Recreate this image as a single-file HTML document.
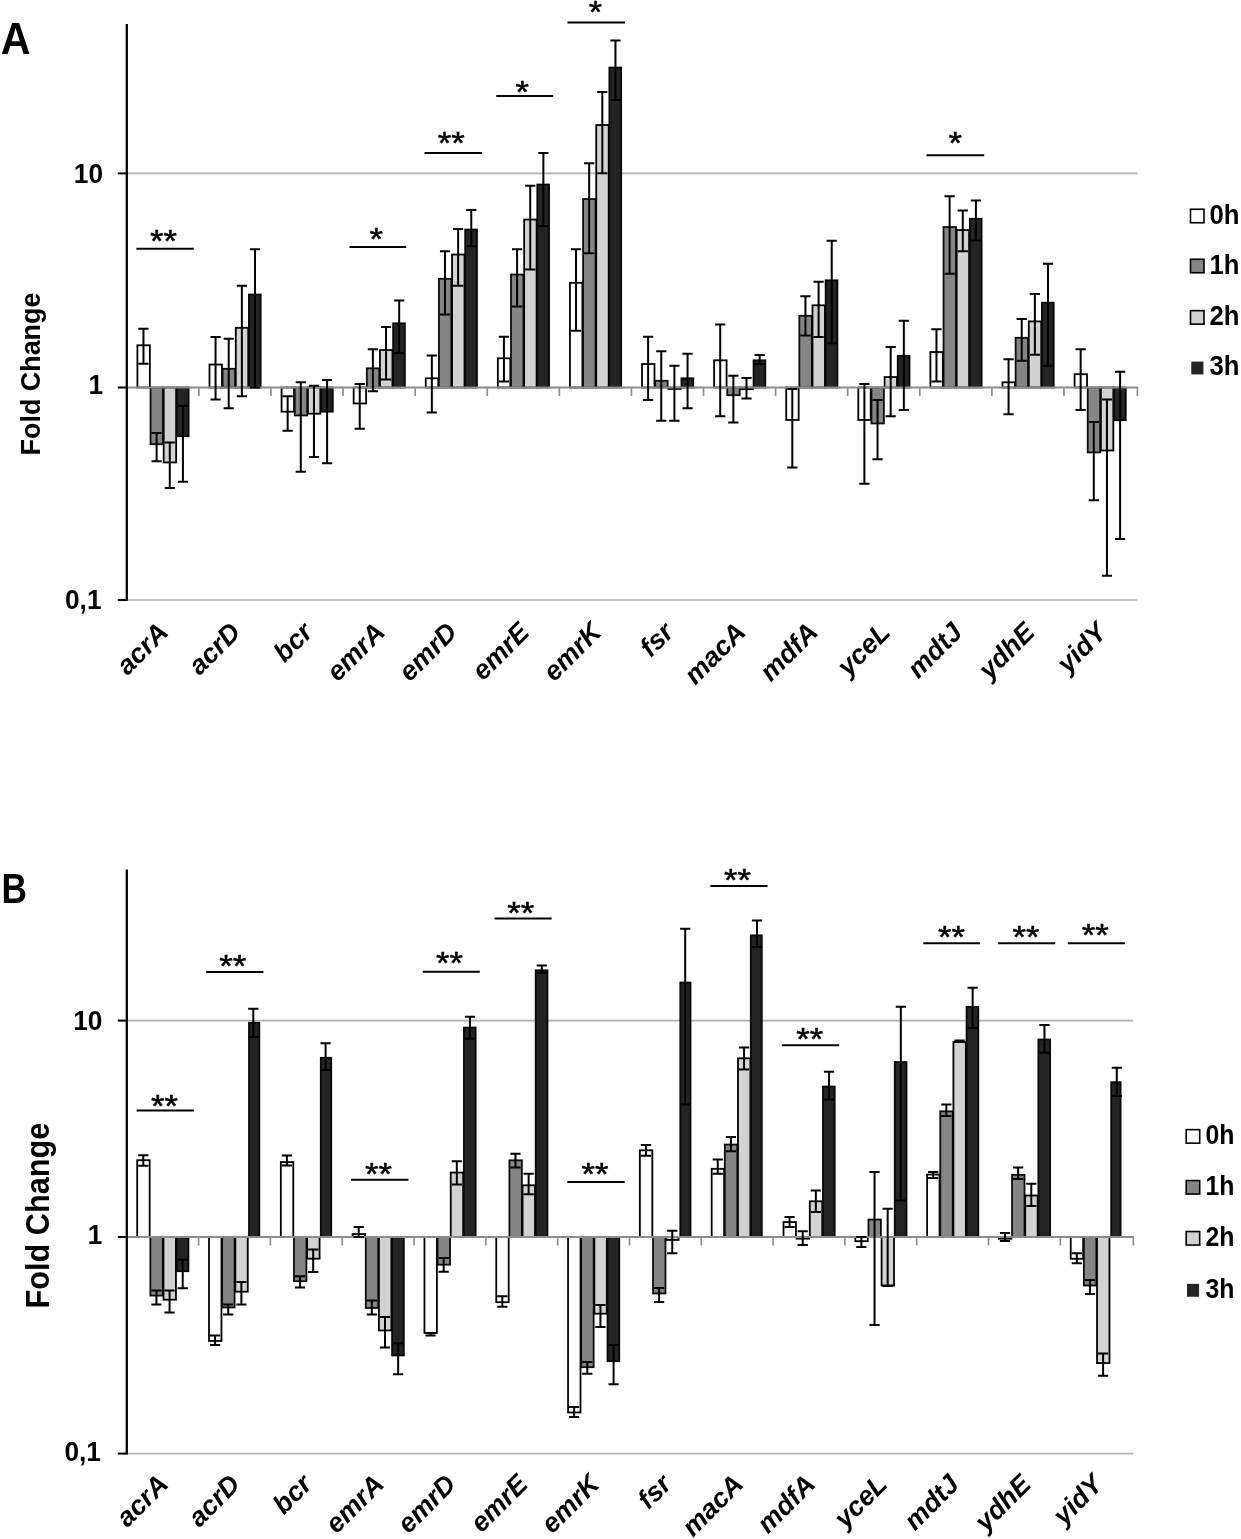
<!DOCTYPE html>
<html lang="en">
<head>
<meta charset="utf-8">
<title>Fold change of efflux pump genes</title>
<style>
html,body{margin:0;padding:0;background:#fff;}
body{width:1241px;height:1539px;overflow:hidden;}
svg{display:block;filter:blur(0.45px);}
svg text{font-family:"Liberation Sans",sans-serif;fill:#000;}
</style>
</head>
<body>
<svg width="1241" height="1539" viewBox="0 0 1241 1539">
<rect width="1241" height="1539" fill="#fff"/>
<g id="panelA">
<line x1="126.8" y1="173.4" x2="1137.4" y2="173.4" stroke="#b0b0b0" stroke-width="1.7"/>
<line x1="126.8" y1="600" x2="1137.4" y2="600" stroke="#b0b0b0" stroke-width="1.7"/>
<rect x="137.4" y="345.3" width="12.45" height="42.2" fill="#ffffff" stroke="#000000" stroke-width="1.8"/>
<rect x="150.55" y="387.5" width="12.45" height="56.7" fill="#858585" stroke="#0c0c0c" stroke-width="1.8"/>
<rect x="163.7" y="387.5" width="12.45" height="74.95" fill="#d2d2d2" stroke="#000000" stroke-width="1.8"/>
<rect x="176.85" y="387.5" width="11.75" height="48.7" fill="#242424" stroke="#080808" stroke-width="1.8"/>
<rect x="209.49" y="364.55" width="12.45" height="22.95" fill="#ffffff" stroke="#000000" stroke-width="1.8"/>
<rect x="222.64" y="368.8" width="12.45" height="18.7" fill="#858585" stroke="#0c0c0c" stroke-width="1.8"/>
<rect x="235.79" y="327.8" width="12.45" height="59.7" fill="#d2d2d2" stroke="#000000" stroke-width="1.8"/>
<rect x="248.94" y="294.55" width="11.75" height="92.95" fill="#242424" stroke="#080808" stroke-width="1.8"/>
<rect x="281.58" y="387.5" width="12.45" height="24.2" fill="#ffffff" stroke="#000000" stroke-width="1.8"/>
<rect x="294.73" y="387.5" width="12.45" height="27.95" fill="#858585" stroke="#0c0c0c" stroke-width="1.8"/>
<rect x="307.88" y="387.5" width="12.45" height="26.2" fill="#d2d2d2" stroke="#000000" stroke-width="1.8"/>
<rect x="321.03" y="387.5" width="11.75" height="24.2" fill="#242424" stroke="#080808" stroke-width="1.8"/>
<rect x="353.67" y="387.5" width="12.45" height="15.95" fill="#ffffff" stroke="#000000" stroke-width="1.8"/>
<rect x="366.82" y="368.3" width="12.45" height="19.2" fill="#858585" stroke="#0c0c0c" stroke-width="1.8"/>
<rect x="379.97" y="350.05" width="12.45" height="37.45" fill="#d2d2d2" stroke="#000000" stroke-width="1.8"/>
<rect x="393.12" y="323.3" width="11.75" height="64.2" fill="#242424" stroke="#080808" stroke-width="1.8"/>
<rect x="425.76" y="378.3" width="12.45" height="9.2" fill="#ffffff" stroke="#000000" stroke-width="1.8"/>
<rect x="438.91" y="278.8" width="12.45" height="108.7" fill="#858585" stroke="#0c0c0c" stroke-width="1.8"/>
<rect x="452.06" y="254.55" width="12.45" height="132.95" fill="#d2d2d2" stroke="#000000" stroke-width="1.8"/>
<rect x="465.21" y="229.55" width="11.75" height="157.95" fill="#242424" stroke="#080808" stroke-width="1.8"/>
<rect x="497.85" y="358.3" width="12.45" height="29.2" fill="#ffffff" stroke="#000000" stroke-width="1.8"/>
<rect x="511" y="274.55" width="12.45" height="112.95" fill="#858585" stroke="#0c0c0c" stroke-width="1.8"/>
<rect x="524.15" y="219.55" width="12.45" height="167.95" fill="#d2d2d2" stroke="#000000" stroke-width="1.8"/>
<rect x="537.3" y="184.55" width="11.75" height="202.95" fill="#242424" stroke="#080808" stroke-width="1.8"/>
<rect x="569.94" y="282.8" width="12.45" height="104.7" fill="#ffffff" stroke="#000000" stroke-width="1.8"/>
<rect x="583.09" y="199.05" width="12.45" height="188.45" fill="#858585" stroke="#0c0c0c" stroke-width="1.8"/>
<rect x="596.24" y="125.05" width="12.45" height="262.45" fill="#d2d2d2" stroke="#000000" stroke-width="1.8"/>
<rect x="609.39" y="67.55" width="11.75" height="319.95" fill="#242424" stroke="#080808" stroke-width="1.8"/>
<rect x="642.03" y="364.05" width="12.45" height="23.45" fill="#ffffff" stroke="#000000" stroke-width="1.8"/>
<rect x="655.18" y="380.8" width="12.45" height="6.7" fill="#858585" stroke="#0c0c0c" stroke-width="1.8"/>
<rect x="668.33" y="387.5" width="12.45" height="1.45" fill="#d2d2d2" stroke="#000000" stroke-width="1.8"/>
<rect x="681.48" y="378.3" width="11.75" height="9.2" fill="#242424" stroke="#080808" stroke-width="1.8"/>
<rect x="714.12" y="360.3" width="12.45" height="27.2" fill="#ffffff" stroke="#000000" stroke-width="1.8"/>
<rect x="727.27" y="387.5" width="12.45" height="7.7" fill="#858585" stroke="#0c0c0c" stroke-width="1.8"/>
<rect x="740.42" y="387.5" width="12.45" height="1.7" fill="#d2d2d2" stroke="#000000" stroke-width="1.8"/>
<rect x="753.57" y="360.3" width="11.75" height="27.2" fill="#242424" stroke="#080808" stroke-width="1.8"/>
<rect x="786.21" y="387.5" width="12.45" height="32.45" fill="#ffffff" stroke="#000000" stroke-width="1.8"/>
<rect x="799.36" y="315.8" width="12.45" height="71.7" fill="#858585" stroke="#0c0c0c" stroke-width="1.8"/>
<rect x="812.51" y="305.3" width="12.45" height="82.2" fill="#d2d2d2" stroke="#000000" stroke-width="1.8"/>
<rect x="825.66" y="280.3" width="11.75" height="107.2" fill="#242424" stroke="#080808" stroke-width="1.8"/>
<rect x="858.3" y="387.5" width="12.45" height="32.45" fill="#ffffff" stroke="#000000" stroke-width="1.8"/>
<rect x="871.45" y="387.5" width="12.45" height="35.95" fill="#858585" stroke="#0c0c0c" stroke-width="1.8"/>
<rect x="884.6" y="377.05" width="12.45" height="10.45" fill="#d2d2d2" stroke="#000000" stroke-width="1.8"/>
<rect x="897.75" y="355.8" width="11.75" height="31.7" fill="#242424" stroke="#080808" stroke-width="1.8"/>
<rect x="930.39" y="352.05" width="12.45" height="35.45" fill="#ffffff" stroke="#000000" stroke-width="1.8"/>
<rect x="943.54" y="227.05" width="12.45" height="160.45" fill="#858585" stroke="#0c0c0c" stroke-width="1.8"/>
<rect x="956.69" y="230.05" width="12.45" height="157.45" fill="#d2d2d2" stroke="#000000" stroke-width="1.8"/>
<rect x="969.84" y="218.8" width="11.75" height="168.7" fill="#242424" stroke="#080808" stroke-width="1.8"/>
<rect x="1002.48" y="382.3" width="12.45" height="5.2" fill="#ffffff" stroke="#000000" stroke-width="1.8"/>
<rect x="1015.63" y="337.8" width="12.45" height="49.7" fill="#858585" stroke="#0c0c0c" stroke-width="1.8"/>
<rect x="1028.78" y="321.4" width="12.45" height="66.1" fill="#d2d2d2" stroke="#000000" stroke-width="1.8"/>
<rect x="1041.93" y="302.7" width="11.75" height="84.8" fill="#242424" stroke="#080808" stroke-width="1.8"/>
<rect x="1074.57" y="374.2" width="12.45" height="13.3" fill="#ffffff" stroke="#000000" stroke-width="1.8"/>
<rect x="1087.72" y="387.5" width="12.45" height="64.9" fill="#858585" stroke="#0c0c0c" stroke-width="1.8"/>
<rect x="1100.87" y="387.5" width="12.45" height="63" fill="#d2d2d2" stroke="#000000" stroke-width="1.8"/>
<rect x="1114.02" y="387.5" width="11.75" height="32.7" fill="#242424" stroke="#080808" stroke-width="1.8"/>
<line x1="126.8" y1="387.5" x2="1138.1" y2="387.5" stroke="#8c8c8c" stroke-width="1.8"/>
<line x1="198.89" y1="387.5" x2="198.89" y2="396" stroke="#8f8f8f" stroke-width="1.7"/>
<line x1="270.98" y1="387.5" x2="270.98" y2="396" stroke="#8f8f8f" stroke-width="1.7"/>
<line x1="343.07" y1="387.5" x2="343.07" y2="396" stroke="#8f8f8f" stroke-width="1.7"/>
<line x1="415.16" y1="387.5" x2="415.16" y2="396" stroke="#8f8f8f" stroke-width="1.7"/>
<line x1="487.25" y1="387.5" x2="487.25" y2="396" stroke="#8f8f8f" stroke-width="1.7"/>
<line x1="559.34" y1="387.5" x2="559.34" y2="396" stroke="#8f8f8f" stroke-width="1.7"/>
<line x1="631.43" y1="387.5" x2="631.43" y2="396" stroke="#8f8f8f" stroke-width="1.7"/>
<line x1="703.52" y1="387.5" x2="703.52" y2="396" stroke="#8f8f8f" stroke-width="1.7"/>
<line x1="775.61" y1="387.5" x2="775.61" y2="396" stroke="#8f8f8f" stroke-width="1.7"/>
<line x1="847.7" y1="387.5" x2="847.7" y2="396" stroke="#8f8f8f" stroke-width="1.7"/>
<line x1="919.79" y1="387.5" x2="919.79" y2="396" stroke="#8f8f8f" stroke-width="1.7"/>
<line x1="991.88" y1="387.5" x2="991.88" y2="396" stroke="#8f8f8f" stroke-width="1.7"/>
<line x1="1063.97" y1="387.5" x2="1063.97" y2="396" stroke="#8f8f8f" stroke-width="1.7"/>
<line x1="1137.4" y1="387.5" x2="1137.4" y2="396" stroke="#8f8f8f" stroke-width="1.7"/>
<path d="M143.47 328.8V363.75M138.37 328.8H148.57M138.37 363.75H148.57" stroke="#000" stroke-width="2" fill="none"/>
<path d="M156.62 433V461.25M151.52 433H161.72M151.52 461.25H161.72" stroke="#000" stroke-width="2" fill="none"/>
<path d="M169.77 442.5V488M164.67 442.5H174.87M164.67 488H174.87" stroke="#000" stroke-width="2" fill="none"/>
<path d="M182.92 405.75V481.75M177.82 405.75H188.02M177.82 481.75H188.02" stroke="#000" stroke-width="2" fill="none"/>
<path d="M215.56 337V399.5M210.46 337H220.66M210.46 399.5H220.66" stroke="#000" stroke-width="2" fill="none"/>
<path d="M228.71 338.75V408.25M223.61 338.75H233.81M223.61 408.25H233.81" stroke="#000" stroke-width="2" fill="none"/>
<path d="M241.86 285.75V396.25M236.76 285.75H246.96M236.76 396.25H246.96" stroke="#000" stroke-width="2" fill="none"/>
<path d="M255.01 249.25V387.6M249.91 249.25H260.12M249.91 387.6H260.12" stroke="#000" stroke-width="2" fill="none"/>
<path d="M287.65 396.25V430.75M282.55 396.25H292.75M282.55 430.75H292.75" stroke="#000" stroke-width="2" fill="none"/>
<path d="M300.8 382.25V471.75M295.7 382.25H305.9M295.7 471.75H305.9" stroke="#000" stroke-width="2" fill="none"/>
<path d="M313.95 385.75V457M308.85 385.75H319.06M308.85 457H319.06" stroke="#000" stroke-width="2" fill="none"/>
<path d="M327.1 380V463.25M322 380H332.2M322 463.25H332.2" stroke="#000" stroke-width="2" fill="none"/>
<path d="M359.75 384V428.75M354.64 384H364.85M354.64 428.75H364.85" stroke="#000" stroke-width="2" fill="none"/>
<path d="M372.89 349.25V391.25M367.79 349.25H378M367.79 391.25H378" stroke="#000" stroke-width="2" fill="none"/>
<path d="M386.05 327V379.5M380.94 327H391.15M380.94 379.5H391.15" stroke="#000" stroke-width="2" fill="none"/>
<path d="M399.19 300.5V353M394.09 300.5H404.3M394.09 353H404.3" stroke="#000" stroke-width="2" fill="none"/>
<path d="M431.83 355.5V412.5M426.73 355.5H436.94M426.73 412.5H436.94" stroke="#000" stroke-width="2" fill="none"/>
<path d="M444.98 251.25V314.5M439.88 251.25H450.08M439.88 314.5H450.08" stroke="#000" stroke-width="2" fill="none"/>
<path d="M458.13 229V285.75M453.03 229H463.24M453.03 285.75H463.24" stroke="#000" stroke-width="2" fill="none"/>
<path d="M471.28 210V246.25M466.18 210H476.38M466.18 246.25H476.38" stroke="#000" stroke-width="2" fill="none"/>
<path d="M503.93 336.75V381.5M498.82 336.75H509.03M498.82 381.5H509.03" stroke="#000" stroke-width="2" fill="none"/>
<path d="M517.08 249.25V306.5M511.98 249.25H522.18M511.98 306.5H522.18" stroke="#000" stroke-width="2" fill="none"/>
<path d="M530.23 185.75V269.5M525.13 185.75H535.33M525.13 269.5H535.33" stroke="#000" stroke-width="2" fill="none"/>
<path d="M543.38 153V226.25M538.28 153H548.48M538.28 226.25H548.48" stroke="#000" stroke-width="2" fill="none"/>
<path d="M576.02 249.25V330.75M570.92 249.25H581.12M570.92 330.75H581.12" stroke="#000" stroke-width="2" fill="none"/>
<path d="M589.17 163.25V253.25M584.07 163.25H594.27M584.07 253.25H594.27" stroke="#000" stroke-width="2" fill="none"/>
<path d="M602.32 92V173.25M597.22 92H607.42M597.22 173.25H607.42" stroke="#000" stroke-width="2" fill="none"/>
<path d="M615.47 40.5V100M610.37 40.5H620.57M610.37 100H620.57" stroke="#000" stroke-width="2" fill="none"/>
<path d="M648.11 336.75V400M643 336.75H653.21M643 400H653.21" stroke="#000" stroke-width="2" fill="none"/>
<path d="M661.25 351.25V420.75M656.15 351.25H666.36M656.15 420.75H666.36" stroke="#000" stroke-width="2" fill="none"/>
<path d="M674.4 365.75V420.75M669.3 365.75H679.5M669.3 420.75H679.5" stroke="#000" stroke-width="2" fill="none"/>
<path d="M687.56 353.75V408.25M682.46 353.75H692.66M682.46 408.25H692.66" stroke="#000" stroke-width="2" fill="none"/>
<path d="M720.2 324.5V416.25M715.1 324.5H725.3M715.1 416.25H725.3" stroke="#000" stroke-width="2" fill="none"/>
<path d="M733.35 375.75V422.5M728.25 375.75H738.45M728.25 422.5H738.45" stroke="#000" stroke-width="2" fill="none"/>
<path d="M746.5 378V398.5M741.4 378H751.6M741.4 398.5H751.6" stroke="#000" stroke-width="2" fill="none"/>
<path d="M759.65 355V364M754.55 355H764.75M754.55 364H764.75" stroke="#000" stroke-width="2" fill="none"/>
<path d="M792.29 389V467.5M787.19 389H797.39M787.19 467.5H797.39" stroke="#000" stroke-width="2" fill="none"/>
<path d="M805.44 296.25V335.5M800.34 296.25H810.54M800.34 335.5H810.54" stroke="#000" stroke-width="2" fill="none"/>
<path d="M818.59 281.75V337M813.49 281.75H823.69M813.49 337H823.69" stroke="#000" stroke-width="2" fill="none"/>
<path d="M831.74 240.75V343.25M826.64 240.75H836.84M826.64 343.25H836.84" stroke="#000" stroke-width="2" fill="none"/>
<path d="M864.38 384V483.75M859.28 384H869.48M859.28 483.75H869.48" stroke="#000" stroke-width="2" fill="none"/>
<path d="M877.53 400V459.25M872.43 400H882.63M872.43 459.25H882.63" stroke="#000" stroke-width="2" fill="none"/>
<path d="M890.68 347V416.25M885.58 347H895.78M885.58 416.25H895.78" stroke="#000" stroke-width="2" fill="none"/>
<path d="M903.83 320.75V410M898.73 320.75H908.93M898.73 410H908.93" stroke="#000" stroke-width="2" fill="none"/>
<path d="M936.47 329.25V381.5M931.37 329.25H941.57M931.37 381.5H941.57" stroke="#000" stroke-width="2" fill="none"/>
<path d="M949.62 196.25V273.75M944.52 196.25H954.72M944.52 273.75H954.72" stroke="#000" stroke-width="2" fill="none"/>
<path d="M962.77 210.5V251.25M957.67 210.5H967.87M957.67 251.25H967.87" stroke="#000" stroke-width="2" fill="none"/>
<path d="M975.92 200.5V240.5M970.82 200.5H981.02M970.82 240.5H981.02" stroke="#000" stroke-width="2" fill="none"/>
<path d="M1008.56 359.3V414.3M1003.46 359.3H1013.66M1003.46 414.3H1013.66" stroke="#000" stroke-width="2" fill="none"/>
<path d="M1021.71 318.9V360.8M1016.61 318.9H1026.81M1016.61 360.8H1026.81" stroke="#000" stroke-width="2" fill="none"/>
<path d="M1034.86 293.9V354.8M1029.76 293.9H1039.95M1029.76 354.8H1039.95" stroke="#000" stroke-width="2" fill="none"/>
<path d="M1048.01 263.8V365.7M1042.91 263.8H1053.11M1042.91 365.7H1053.11" stroke="#000" stroke-width="2" fill="none"/>
<path d="M1080.65 349.2V410M1075.55 349.2H1085.75M1075.55 410H1085.75" stroke="#000" stroke-width="2" fill="none"/>
<path d="M1093.8 422.1V500.2M1088.7 422.1H1098.9M1088.7 500.2H1098.9" stroke="#000" stroke-width="2" fill="none"/>
<path d="M1106.95 399.6V575.7M1101.85 399.6H1112.05M1101.85 575.7H1112.05" stroke="#000" stroke-width="2" fill="none"/>
<path d="M1120.1 371.7V539M1115 371.7H1125.2M1115 539H1125.2" stroke="#000" stroke-width="2" fill="none"/>
<line x1="126.8" y1="24" x2="126.8" y2="600.8" stroke="#000" stroke-width="2.3"/>
<line x1="117.8" y1="173.4" x2="126.8" y2="173.4" stroke="#000" stroke-width="2"/>
<line x1="117.8" y1="387.5" x2="126.8" y2="387.5" stroke="#000" stroke-width="2"/>
<line x1="117.8" y1="600" x2="126.8" y2="600" stroke="#000" stroke-width="2"/>
<text transform="translate(103 182.8) scale(0.955 1)" text-anchor="end" font-size="27.5" font-weight="bold">10</text>
<text transform="translate(103 394.3) scale(0.955 1)" text-anchor="end" font-size="27.5" font-weight="bold">1</text>
<text transform="translate(101.5 609) scale(0.955 1)" text-anchor="end" font-size="27.5" font-weight="bold">0,1</text>
<line x1="136.4" y1="248.8" x2="193.75" y2="248.8" stroke="#000" stroke-width="2"/>
<text transform="translate(163.5 251.95) scale(1.12 1)" text-anchor="middle" font-size="31" font-weight="normal" stroke="#000" stroke-width="0.5">**</text>
<line x1="349.5" y1="246.9" x2="406.25" y2="246.9" stroke="#000" stroke-width="2"/>
<text transform="translate(376.15 250.05) scale(1.12 1)" text-anchor="middle" font-size="31" font-weight="normal" stroke="#000" stroke-width="0.5">*</text>
<line x1="424.5" y1="153" x2="482" y2="153" stroke="#000" stroke-width="2"/>
<text transform="translate(451.25 153.9) scale(1.12 1)" text-anchor="middle" font-size="31" font-weight="normal" stroke="#000" stroke-width="0.5">**</text>
<line x1="496.25" y1="96" x2="553.25" y2="96" stroke="#000" stroke-width="2"/>
<text transform="translate(522.35 103) scale(1.12 1)" text-anchor="middle" font-size="31" font-weight="normal" stroke="#000" stroke-width="0.5">*</text>
<line x1="567.5" y1="22.4" x2="625" y2="22.4" stroke="#000" stroke-width="2"/>
<text transform="translate(595.6 22.9) scale(1.12 1)" text-anchor="middle" font-size="31" font-weight="normal" stroke="#000" stroke-width="0.5">*</text>
<line x1="926.4" y1="155.2" x2="984.2" y2="155.2" stroke="#000" stroke-width="2"/>
<text transform="translate(955.25 153.65) scale(1.12 1)" text-anchor="middle" font-size="31" font-weight="normal" stroke="#000" stroke-width="0.5">*</text>
<text transform="translate(0.8 54.4) scale(0.95 1)" font-size="43.5" font-weight="bold">A</text>
<text transform="translate(39.6 455.4) rotate(-90)" font-size="28" font-weight="bold" textLength="162.8" lengthAdjust="spacingAndGlyphs">Fold Change</text>
<text transform="translate(169.89 633.8) rotate(-45)" text-anchor="end" font-size="27" font-weight="bold" font-style="italic">acrA</text>
<text transform="translate(242.08 633.8) rotate(-45)" text-anchor="end" font-size="27" font-weight="bold" font-style="italic">acrD</text>
<text transform="translate(314.26 633.8) rotate(-45)" text-anchor="end" font-size="27" font-weight="bold" font-style="italic">bcr</text>
<text transform="translate(386.45 633.8) rotate(-45)" text-anchor="end" font-size="27" font-weight="bold" font-style="italic">emrA</text>
<text transform="translate(458.64 633.8) rotate(-45)" text-anchor="end" font-size="27" font-weight="bold" font-style="italic">emrD</text>
<text transform="translate(530.82 633.8) rotate(-45)" text-anchor="end" font-size="27" font-weight="bold" font-style="italic">emrE</text>
<text transform="translate(603.01 633.8) rotate(-45)" text-anchor="end" font-size="27" font-weight="bold" font-style="italic">emrK</text>
<text transform="translate(675.19 633.8) rotate(-45)" text-anchor="end" font-size="27" font-weight="bold" font-style="italic">fsr</text>
<text transform="translate(747.38 633.8) rotate(-45)" text-anchor="end" font-size="27" font-weight="bold" font-style="italic">macA</text>
<text transform="translate(819.56 633.8) rotate(-45)" text-anchor="end" font-size="27" font-weight="bold" font-style="italic">mdfA</text>
<text transform="translate(891.75 633.8) rotate(-45)" text-anchor="end" font-size="27" font-weight="bold" font-style="italic">yceL</text>
<text transform="translate(963.94 633.8) rotate(-45)" text-anchor="end" font-size="27" font-weight="bold" font-style="italic">mdtJ</text>
<text transform="translate(1036.12 633.8) rotate(-45)" text-anchor="end" font-size="27" font-weight="bold" font-style="italic">ydhE</text>
<text transform="translate(1108.31 633.8) rotate(-45)" text-anchor="end" font-size="27" font-weight="bold" font-style="italic">yidY</text>
<rect x="1190.5" y="209.25" width="13.5" height="13.5" fill="#ffffff" stroke="#000" stroke-width="1.6"/>
<text x="1209.5" y="223.6" font-size="27" font-weight="bold" textLength="30" lengthAdjust="spacingAndGlyphs">0h</text>
<rect x="1190.5" y="259.25" width="13.5" height="13.5" fill="#858585" stroke="#000" stroke-width="1.6"/>
<text x="1209.5" y="273.6" font-size="27" font-weight="bold" textLength="30" lengthAdjust="spacingAndGlyphs">1h</text>
<rect x="1190.5" y="310.65" width="13.5" height="13.5" fill="#d2d2d2" stroke="#000" stroke-width="1.6"/>
<text x="1209.5" y="325" font-size="27" font-weight="bold" textLength="30" lengthAdjust="spacingAndGlyphs">2h</text>
<rect x="1191.3" y="361.55" width="12.1" height="12.9" fill="#242424"/>
<text x="1209.5" y="375.3" font-size="27" font-weight="bold" textLength="30" lengthAdjust="spacingAndGlyphs">3h</text>
</g>
<g id="panelB">
<line x1="126.8" y1="1020.6" x2="1133.3" y2="1020.6" stroke="#b0b0b0" stroke-width="1.7"/>
<line x1="126.8" y1="1453.6" x2="1133.3" y2="1453.6" stroke="#b0b0b0" stroke-width="1.7"/>
<rect x="137.2" y="1160.2" width="12.45" height="76.8" fill="#ffffff" stroke="#000000" stroke-width="1.8"/>
<rect x="150.35" y="1237" width="12.45" height="58.6" fill="#858585" stroke="#0c0c0c" stroke-width="1.8"/>
<rect x="163.5" y="1237" width="12.45" height="62.7" fill="#d2d2d2" stroke="#000000" stroke-width="1.8"/>
<rect x="176.65" y="1237" width="11.75" height="34.2" fill="#242424" stroke="#080808" stroke-width="1.8"/>
<rect x="209.01" y="1237" width="12.45" height="103.95" fill="#ffffff" stroke="#000000" stroke-width="1.8"/>
<rect x="222.16" y="1237" width="12.45" height="70.45" fill="#858585" stroke="#0c0c0c" stroke-width="1.8"/>
<rect x="235.31" y="1237" width="12.45" height="54.7" fill="#d2d2d2" stroke="#000000" stroke-width="1.8"/>
<rect x="249" y="1022.8" width="10.3" height="214.2" fill="#242424" stroke="#080808" stroke-width="1.8"/>
<rect x="280.82" y="1162.05" width="12.45" height="74.95" fill="#ffffff" stroke="#000000" stroke-width="1.8"/>
<rect x="293.97" y="1237" width="12.45" height="44.2" fill="#858585" stroke="#0c0c0c" stroke-width="1.8"/>
<rect x="307.12" y="1237" width="12.45" height="21.7" fill="#d2d2d2" stroke="#000000" stroke-width="1.8"/>
<rect x="320.8" y="1057.8" width="10.4" height="179.2" fill="#242424" stroke="#080808" stroke-width="1.8"/>
<rect x="352.63" y="1234.05" width="12.45" height="2.95" fill="#ffffff" stroke="#000000" stroke-width="1.8"/>
<rect x="365.78" y="1237" width="12.45" height="70.95" fill="#858585" stroke="#0c0c0c" stroke-width="1.8"/>
<rect x="378.93" y="1237" width="12.45" height="93.45" fill="#d2d2d2" stroke="#000000" stroke-width="1.8"/>
<rect x="392.08" y="1237" width="11.75" height="118.45" fill="#242424" stroke="#080808" stroke-width="1.8"/>
<rect x="424.44" y="1237" width="12.45" height="95.95" fill="#ffffff" stroke="#000000" stroke-width="1.8"/>
<rect x="437.59" y="1237" width="12.45" height="27.7" fill="#858585" stroke="#0c0c0c" stroke-width="1.8"/>
<rect x="450.74" y="1172.55" width="12.45" height="64.45" fill="#d2d2d2" stroke="#000000" stroke-width="1.8"/>
<rect x="463.89" y="1027.55" width="11.75" height="209.45" fill="#242424" stroke="#080808" stroke-width="1.8"/>
<rect x="496.25" y="1237" width="12.45" height="65.2" fill="#ffffff" stroke="#000000" stroke-width="1.8"/>
<rect x="509.4" y="1160.3" width="12.45" height="76.7" fill="#858585" stroke="#0c0c0c" stroke-width="1.8"/>
<rect x="522.55" y="1185.3" width="12.45" height="51.7" fill="#d2d2d2" stroke="#000000" stroke-width="1.8"/>
<rect x="535.7" y="970.3" width="11.75" height="266.7" fill="#242424" stroke="#080808" stroke-width="1.8"/>
<rect x="568.06" y="1237" width="12.45" height="175.45" fill="#ffffff" stroke="#000000" stroke-width="1.8"/>
<rect x="581.21" y="1237" width="12.45" height="130.2" fill="#858585" stroke="#0c0c0c" stroke-width="1.8"/>
<rect x="594.36" y="1237" width="12.45" height="76.7" fill="#d2d2d2" stroke="#000000" stroke-width="1.8"/>
<rect x="607.51" y="1237" width="11.75" height="124.2" fill="#242424" stroke="#080808" stroke-width="1.8"/>
<rect x="639.87" y="1150.3" width="12.45" height="86.7" fill="#ffffff" stroke="#000000" stroke-width="1.8"/>
<rect x="653.02" y="1237" width="12.45" height="56.45" fill="#858585" stroke="#0c0c0c" stroke-width="1.8"/>
<rect x="666.17" y="1237" width="12.45" height="2.95" fill="#d2d2d2" stroke="#000000" stroke-width="1.8"/>
<rect x="680.3" y="982.55" width="10.2" height="254.45" fill="#242424" stroke="#080808" stroke-width="1.8"/>
<rect x="711.68" y="1168.8" width="12.45" height="68.2" fill="#ffffff" stroke="#000000" stroke-width="1.8"/>
<rect x="724.83" y="1144.55" width="12.45" height="92.45" fill="#858585" stroke="#0c0c0c" stroke-width="1.8"/>
<rect x="737.98" y="1058.3" width="12.45" height="178.7" fill="#d2d2d2" stroke="#000000" stroke-width="1.8"/>
<rect x="750.8" y="935.3" width="11" height="301.7" fill="#242424" stroke="#080808" stroke-width="1.8"/>
<rect x="783.49" y="1222.05" width="12.45" height="14.95" fill="#ffffff" stroke="#000000" stroke-width="1.8"/>
<rect x="796.64" y="1237" width="12.45" height="1.7" fill="#858585" stroke="#0c0c0c" stroke-width="1.8"/>
<rect x="809.79" y="1201.3" width="12.45" height="35.7" fill="#d2d2d2" stroke="#000000" stroke-width="1.8"/>
<rect x="822.94" y="1086.55" width="11.75" height="150.45" fill="#242424" stroke="#080808" stroke-width="1.8"/>
<rect x="855.3" y="1237" width="12.45" height="4.2" fill="#ffffff" stroke="#000000" stroke-width="1.8"/>
<rect x="868.45" y="1219.55" width="12.45" height="17.45" fill="#858585" stroke="#0c0c0c" stroke-width="1.8"/>
<rect x="881.6" y="1237" width="12.45" height="48.45" fill="#d2d2d2" stroke="#000000" stroke-width="1.8"/>
<rect x="894.75" y="1062.05" width="11.75" height="174.95" fill="#242424" stroke="#080808" stroke-width="1.8"/>
<rect x="927.11" y="1174.55" width="12.45" height="62.45" fill="#ffffff" stroke="#000000" stroke-width="1.8"/>
<rect x="940.26" y="1111.3" width="12.45" height="125.7" fill="#858585" stroke="#0c0c0c" stroke-width="1.8"/>
<rect x="953.41" y="1042.05" width="12.45" height="194.95" fill="#d2d2d2" stroke="#000000" stroke-width="1.8"/>
<rect x="966.56" y="1006.9" width="11.75" height="230.1" fill="#242424" stroke="#080808" stroke-width="1.8"/>
<rect x="998.92" y="1237" width="12.45" height="1.7" fill="#ffffff" stroke="#000000" stroke-width="1.8"/>
<rect x="1012.07" y="1174.8" width="12.45" height="62.2" fill="#858585" stroke="#0c0c0c" stroke-width="1.8"/>
<rect x="1025.22" y="1195.5" width="12.45" height="41.5" fill="#d2d2d2" stroke="#000000" stroke-width="1.8"/>
<rect x="1038.37" y="1039.5" width="11.75" height="197.5" fill="#242424" stroke="#080808" stroke-width="1.8"/>
<rect x="1070.73" y="1237" width="12.45" height="21.8" fill="#ffffff" stroke="#000000" stroke-width="1.8"/>
<rect x="1083.88" y="1237" width="12.45" height="48.5" fill="#858585" stroke="#0c0c0c" stroke-width="1.8"/>
<rect x="1097.03" y="1237" width="12.45" height="126.1" fill="#d2d2d2" stroke="#000000" stroke-width="1.8"/>
<rect x="1111.2" y="1082.2" width="9.4" height="154.8" fill="#242424" stroke="#080808" stroke-width="1.8"/>
<line x1="126.8" y1="1237" x2="1134" y2="1237" stroke="#8c8c8c" stroke-width="1.8"/>
<line x1="198.61" y1="1237" x2="198.61" y2="1245.5" stroke="#8f8f8f" stroke-width="1.7"/>
<line x1="270.42" y1="1237" x2="270.42" y2="1245.5" stroke="#8f8f8f" stroke-width="1.7"/>
<line x1="342.23" y1="1237" x2="342.23" y2="1245.5" stroke="#8f8f8f" stroke-width="1.7"/>
<line x1="414.04" y1="1237" x2="414.04" y2="1245.5" stroke="#8f8f8f" stroke-width="1.7"/>
<line x1="485.85" y1="1237" x2="485.85" y2="1245.5" stroke="#8f8f8f" stroke-width="1.7"/>
<line x1="557.66" y1="1237" x2="557.66" y2="1245.5" stroke="#8f8f8f" stroke-width="1.7"/>
<line x1="629.47" y1="1237" x2="629.47" y2="1245.5" stroke="#8f8f8f" stroke-width="1.7"/>
<line x1="701.28" y1="1237" x2="701.28" y2="1245.5" stroke="#8f8f8f" stroke-width="1.7"/>
<line x1="773.09" y1="1237" x2="773.09" y2="1245.5" stroke="#8f8f8f" stroke-width="1.7"/>
<line x1="844.9" y1="1237" x2="844.9" y2="1245.5" stroke="#8f8f8f" stroke-width="1.7"/>
<line x1="916.71" y1="1237" x2="916.71" y2="1245.5" stroke="#8f8f8f" stroke-width="1.7"/>
<line x1="988.52" y1="1237" x2="988.52" y2="1245.5" stroke="#8f8f8f" stroke-width="1.7"/>
<line x1="1060.33" y1="1237" x2="1060.33" y2="1245.5" stroke="#8f8f8f" stroke-width="1.7"/>
<line x1="1133.3" y1="1237" x2="1133.3" y2="1245.5" stroke="#8f8f8f" stroke-width="1.7"/>
<path d="M143.27 1155.3V1165.8M138.17 1155.3H148.37M138.17 1165.8H148.37" stroke="#000" stroke-width="2" fill="none"/>
<path d="M156.42 1290.5V1304.6M151.32 1290.5H161.52M151.32 1304.6H161.52" stroke="#000" stroke-width="2" fill="none"/>
<path d="M169.57 1290.5V1312.5M164.47 1290.5H174.67M164.47 1312.5H174.67" stroke="#000" stroke-width="2" fill="none"/>
<path d="M182.72 1259.7V1288.2M177.62 1259.7H187.82M177.62 1288.2H187.82" stroke="#000" stroke-width="2" fill="none"/>
<path d="M215.08 1335.5V1345M209.98 1335.5H220.18M209.98 1345H220.18" stroke="#000" stroke-width="2" fill="none"/>
<path d="M228.23 1304.5V1314.5M223.13 1304.5H233.33M223.13 1314.5H233.33" stroke="#000" stroke-width="2" fill="none"/>
<path d="M241.38 1282V1304.5M236.28 1282H246.48M236.28 1304.5H246.48" stroke="#000" stroke-width="2" fill="none"/>
<path d="M253.3 1008.75V1037M248.2 1008.75H258.4M248.2 1037H258.4" stroke="#000" stroke-width="2" fill="none"/>
<path d="M286.89 1155.5V1165.5M281.79 1155.5H292M281.79 1165.5H292" stroke="#000" stroke-width="2" fill="none"/>
<path d="M300.04 1276.25V1287.5M294.94 1276.25H305.14M294.94 1287.5H305.14" stroke="#000" stroke-width="2" fill="none"/>
<path d="M313.19 1249.5V1272M308.09 1249.5H318.3M308.09 1272H318.3" stroke="#000" stroke-width="2" fill="none"/>
<path d="M325.6 1043.25V1070M320.5 1043.25H330.7M320.5 1070H330.7" stroke="#000" stroke-width="2" fill="none"/>
<path d="M358.7 1227V1237M353.6 1227H363.81M353.6 1237H363.81" stroke="#000" stroke-width="2" fill="none"/>
<path d="M371.85 1300.5V1314.5M366.75 1300.5H376.95M366.75 1314.5H376.95" stroke="#000" stroke-width="2" fill="none"/>
<path d="M385 1317V1347.5M379.9 1317H390.11M379.9 1347.5H390.11" stroke="#000" stroke-width="2" fill="none"/>
<path d="M398.15 1343.25V1374.25M393.05 1343.25H403.25M393.05 1374.25H403.25" stroke="#000" stroke-width="2" fill="none"/>
<path d="M430.51 1333V1335.5M425.41 1333H435.62M425.41 1335.5H435.62" stroke="#000" stroke-width="2" fill="none"/>
<path d="M443.66 1258V1271.75M438.56 1258H448.76M438.56 1271.75H448.76" stroke="#000" stroke-width="2" fill="none"/>
<path d="M456.81 1161.25V1184.5M451.71 1161.25H461.92M451.71 1184.5H461.92" stroke="#000" stroke-width="2" fill="none"/>
<path d="M469.96 1016.75V1038.75M464.86 1016.75H475.06M464.86 1038.75H475.06" stroke="#000" stroke-width="2" fill="none"/>
<path d="M502.32 1296.25V1306.75M497.22 1296.25H507.43M497.22 1306.75H507.43" stroke="#000" stroke-width="2" fill="none"/>
<path d="M515.48 1153.75V1167.5M510.38 1153.75H520.58M510.38 1167.5H520.58" stroke="#000" stroke-width="2" fill="none"/>
<path d="M528.63 1173.75V1194.25M523.53 1173.75H533.73M523.53 1194.25H533.73" stroke="#000" stroke-width="2" fill="none"/>
<path d="M541.78 965.5V973M536.68 965.5H546.88M536.68 973H546.88" stroke="#000" stroke-width="2" fill="none"/>
<path d="M574.14 1407V1417M569.04 1407H579.24M569.04 1417H579.24" stroke="#000" stroke-width="2" fill="none"/>
<path d="M587.29 1362V1373.75M582.19 1362H592.39M582.19 1373.75H592.39" stroke="#000" stroke-width="2" fill="none"/>
<path d="M600.44 1305V1327M595.34 1305H605.54M595.34 1327H605.54" stroke="#000" stroke-width="2" fill="none"/>
<path d="M613.59 1345V1384.25M608.49 1345H618.69M608.49 1384.25H618.69" stroke="#000" stroke-width="2" fill="none"/>
<path d="M645.95 1145V1155.75M640.85 1145H651.05M640.85 1155.75H651.05" stroke="#000" stroke-width="2" fill="none"/>
<path d="M659.1 1288V1302M654 1288H664.2M654 1302H664.2" stroke="#000" stroke-width="2" fill="none"/>
<path d="M672.25 1230.75V1253.25M667.15 1230.75H677.35M667.15 1253.25H677.35" stroke="#000" stroke-width="2" fill="none"/>
<path d="M685.2 928.75V1104.5M680.1 928.75H690.3M680.1 1104.5H690.3" stroke="#000" stroke-width="2" fill="none"/>
<path d="M717.76 1159.5V1173.75M712.66 1159.5H722.86M712.66 1173.75H722.86" stroke="#000" stroke-width="2" fill="none"/>
<path d="M730.91 1137V1151.25M725.81 1137H736.01M725.81 1151.25H736.01" stroke="#000" stroke-width="2" fill="none"/>
<path d="M744.06 1047.5V1069.5M738.96 1047.5H749.16M738.96 1069.5H749.16" stroke="#000" stroke-width="2" fill="none"/>
<path d="M757 920.5V947M751.9 920.5H762.1M751.9 947H762.1" stroke="#000" stroke-width="2" fill="none"/>
<path d="M789.57 1217V1227M784.47 1217H794.67M784.47 1227H794.67" stroke="#000" stroke-width="2" fill="none"/>
<path d="M802.72 1231.25V1245M797.62 1231.25H807.82M797.62 1245H807.82" stroke="#000" stroke-width="2" fill="none"/>
<path d="M815.87 1190.5V1212M810.76 1190.5H820.97M810.76 1212H820.97" stroke="#000" stroke-width="2" fill="none"/>
<path d="M829.02 1071.75V1099.5M823.92 1071.75H834.12M823.92 1099.5H834.12" stroke="#000" stroke-width="2" fill="none"/>
<path d="M861.38 1237V1247M856.28 1237H866.48M856.28 1247H866.48" stroke="#000" stroke-width="2" fill="none"/>
<path d="M874.53 1172V1325M869.43 1172H879.63M869.43 1325H879.63" stroke="#000" stroke-width="2" fill="none"/>
<path d="M887.68 1208.75V1286M882.58 1208.75H892.78M882.58 1286H892.78" stroke="#000" stroke-width="2" fill="none"/>
<path d="M900.83 1006.75V1200.5M895.73 1006.75H905.93M895.73 1200.5H905.93" stroke="#000" stroke-width="2" fill="none"/>
<path d="M933.19 1172V1178M928.09 1172H938.29M928.09 1178H938.29" stroke="#000" stroke-width="2" fill="none"/>
<path d="M946.34 1104.5V1116M941.24 1104.5H951.44M941.24 1116H951.44" stroke="#000" stroke-width="2" fill="none"/>
<path d="M959.49 1040.5V1042M954.39 1040.5H964.59M954.39 1042H964.59" stroke="#000" stroke-width="2" fill="none"/>
<path d="M972.64 987.7V1028M967.54 987.7H977.74M967.54 1028H977.74" stroke="#000" stroke-width="2" fill="none"/>
<path d="M1005 1233V1241M999.9 1233H1010.1M999.9 1241H1010.1" stroke="#000" stroke-width="2" fill="none"/>
<path d="M1018.15 1167.5V1179M1013.05 1167.5H1023.25M1013.05 1179H1023.25" stroke="#000" stroke-width="2" fill="none"/>
<path d="M1031.3 1183.8V1206M1026.2 1183.8H1036.39M1026.2 1206H1036.39" stroke="#000" stroke-width="2" fill="none"/>
<path d="M1044.45 1024.9V1052.8M1039.35 1024.9H1049.55M1039.35 1052.8H1049.55" stroke="#000" stroke-width="2" fill="none"/>
<path d="M1076.81 1253.3V1263.2M1071.71 1253.3H1081.9M1071.71 1263.2H1081.9" stroke="#000" stroke-width="2" fill="none"/>
<path d="M1089.96 1280V1294M1084.86 1280H1095.06M1084.86 1294H1095.06" stroke="#000" stroke-width="2" fill="none"/>
<path d="M1103.11 1353.5V1375.8M1098.01 1353.5H1108.2M1098.01 1375.8H1108.2" stroke="#000" stroke-width="2" fill="none"/>
<path d="M1116.8 1067.8V1096M1111.7 1067.8H1121.9M1111.7 1096H1121.9" stroke="#000" stroke-width="2" fill="none"/>
<line x1="126.8" y1="869.5" x2="126.8" y2="1454.4" stroke="#000" stroke-width="2.3"/>
<line x1="117.8" y1="1020.6" x2="126.8" y2="1020.6" stroke="#000" stroke-width="2"/>
<line x1="117.8" y1="1237" x2="126.8" y2="1237" stroke="#000" stroke-width="2"/>
<line x1="117.8" y1="1453.6" x2="126.8" y2="1453.6" stroke="#000" stroke-width="2"/>
<text transform="translate(102.4 1029.5) scale(0.955 1)" text-anchor="end" font-size="27.5" font-weight="bold">10</text>
<text transform="translate(102.4 1243.8) scale(0.955 1)" text-anchor="end" font-size="27.5" font-weight="bold">1</text>
<text transform="translate(100.9 1460.5) scale(0.955 1)" text-anchor="end" font-size="27.5" font-weight="bold">0,1</text>
<line x1="136.6" y1="1110.5" x2="193.9" y2="1110.5" stroke="#000" stroke-width="2"/>
<text transform="translate(164.55 1117.45) scale(1.12 1)" text-anchor="middle" font-size="31" font-weight="normal" stroke="#000" stroke-width="0.5">**</text>
<line x1="206.2" y1="971.9" x2="263.4" y2="971.9" stroke="#000" stroke-width="2"/>
<text transform="translate(232.8 976.65) scale(1.12 1)" text-anchor="middle" font-size="31" font-weight="normal" stroke="#000" stroke-width="0.5">**</text>
<line x1="351" y1="1179.7" x2="408.5" y2="1179.7" stroke="#000" stroke-width="2"/>
<text transform="translate(378.4 1184.55) scale(1.12 1)" text-anchor="middle" font-size="31" font-weight="normal" stroke="#000" stroke-width="0.5">**</text>
<line x1="422.8" y1="971.7" x2="479.8" y2="971.7" stroke="#000" stroke-width="2"/>
<text transform="translate(449.4 974.25) scale(1.12 1)" text-anchor="middle" font-size="31" font-weight="normal" stroke="#000" stroke-width="0.5">**</text>
<line x1="494.5" y1="918.5" x2="551.6" y2="918.5" stroke="#000" stroke-width="2"/>
<text transform="translate(520.7 923.5) scale(1.12 1)" text-anchor="middle" font-size="31" font-weight="normal" stroke="#000" stroke-width="0.5">**</text>
<line x1="567.3" y1="1182" x2="624.7" y2="1182" stroke="#000" stroke-width="2"/>
<text transform="translate(595 1184.55) scale(1.12 1)" text-anchor="middle" font-size="31" font-weight="normal" stroke="#000" stroke-width="0.5">**</text>
<line x1="710.3" y1="886" x2="767.6" y2="886" stroke="#000" stroke-width="2"/>
<text transform="translate(737.5 890.7) scale(1.12 1)" text-anchor="middle" font-size="31" font-weight="normal" stroke="#000" stroke-width="0.5">**</text>
<line x1="781.8" y1="1045.3" x2="839.2" y2="1045.3" stroke="#000" stroke-width="2"/>
<text transform="translate(809.7 1049.7) scale(1.12 1)" text-anchor="middle" font-size="31" font-weight="normal" stroke="#000" stroke-width="0.5">**</text>
<line x1="923.3" y1="943.2" x2="980" y2="943.2" stroke="#000" stroke-width="2"/>
<text transform="translate(951.4 947.85) scale(1.12 1)" text-anchor="middle" font-size="31" font-weight="normal" stroke="#000" stroke-width="0.5">**</text>
<line x1="998.2" y1="943.2" x2="1055.2" y2="943.2" stroke="#000" stroke-width="2"/>
<text transform="translate(1026.1 947.7) scale(1.12 1)" text-anchor="middle" font-size="31" font-weight="normal" stroke="#000" stroke-width="0.5">**</text>
<line x1="1067.8" y1="943.2" x2="1124.8" y2="943.2" stroke="#000" stroke-width="2"/>
<text transform="translate(1095.2 946.2) scale(1.12 1)" text-anchor="middle" font-size="31" font-weight="normal" stroke="#000" stroke-width="0.5">**</text>
<text transform="translate(1.6 903.3) scale(0.84 1)" font-size="42" font-weight="bold">B</text>
<text transform="translate(48.8 1308.6) rotate(-90)" font-size="32.5" font-weight="bold" textLength="186" lengthAdjust="spacingAndGlyphs">Fold Change</text>
<text transform="translate(169.75 1485.8) rotate(-45)" text-anchor="end" font-size="27" font-weight="bold" font-style="italic">acrA</text>
<text transform="translate(241.64 1485.8) rotate(-45)" text-anchor="end" font-size="27" font-weight="bold" font-style="italic">acrD</text>
<text transform="translate(313.53 1485.8) rotate(-45)" text-anchor="end" font-size="27" font-weight="bold" font-style="italic">bcr</text>
<text transform="translate(385.43 1485.8) rotate(-45)" text-anchor="end" font-size="27" font-weight="bold" font-style="italic">emrA</text>
<text transform="translate(457.32 1485.8) rotate(-45)" text-anchor="end" font-size="27" font-weight="bold" font-style="italic">emrD</text>
<text transform="translate(529.21 1485.8) rotate(-45)" text-anchor="end" font-size="27" font-weight="bold" font-style="italic">emrE</text>
<text transform="translate(601.1 1485.8) rotate(-45)" text-anchor="end" font-size="27" font-weight="bold" font-style="italic">emrK</text>
<text transform="translate(673 1485.8) rotate(-45)" text-anchor="end" font-size="27" font-weight="bold" font-style="italic">fsr</text>
<text transform="translate(744.89 1485.8) rotate(-45)" text-anchor="end" font-size="27" font-weight="bold" font-style="italic">macA</text>
<text transform="translate(816.78 1485.8) rotate(-45)" text-anchor="end" font-size="27" font-weight="bold" font-style="italic">mdfA</text>
<text transform="translate(888.67 1485.8) rotate(-45)" text-anchor="end" font-size="27" font-weight="bold" font-style="italic">yceL</text>
<text transform="translate(960.57 1485.8) rotate(-45)" text-anchor="end" font-size="27" font-weight="bold" font-style="italic">mdtJ</text>
<text transform="translate(1032.46 1485.8) rotate(-45)" text-anchor="end" font-size="27" font-weight="bold" font-style="italic">ydhE</text>
<text transform="translate(1104.35 1485.8) rotate(-45)" text-anchor="end" font-size="27" font-weight="bold" font-style="italic">yidY</text>
<rect x="1186.2" y="1129.65" width="13.5" height="13.5" fill="#ffffff" stroke="#000" stroke-width="1.6"/>
<text x="1205.5" y="1144" font-size="27" font-weight="bold" textLength="29" lengthAdjust="spacingAndGlyphs">0h</text>
<rect x="1186.2" y="1180.55" width="13.5" height="13.5" fill="#858585" stroke="#000" stroke-width="1.6"/>
<text x="1205.5" y="1194.9" font-size="27" font-weight="bold" textLength="29" lengthAdjust="spacingAndGlyphs">1h</text>
<rect x="1186.2" y="1231.55" width="13.5" height="13.5" fill="#d2d2d2" stroke="#000" stroke-width="1.6"/>
<text x="1205.5" y="1245.9" font-size="27" font-weight="bold" textLength="29" lengthAdjust="spacingAndGlyphs">2h</text>
<rect x="1187" y="1283.85" width="12.1" height="12.9" fill="#242424"/>
<text x="1205.5" y="1297.6" font-size="27" font-weight="bold" textLength="29" lengthAdjust="spacingAndGlyphs">3h</text>
</g>
</svg>
</body>
</html>
